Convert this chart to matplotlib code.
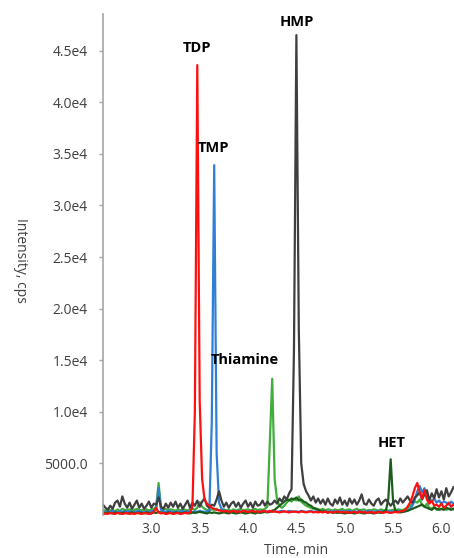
import numpy as np
import matplotlib
matplotlib.use("Agg")
import matplotlib.pyplot as plt

# Chromatogram sampling (minutes)
scan_start = 2.500
scan_step = 0.025
n_scans = 146

# Intensity traces (cps), one value per scan
hmp = [1000, 700, 500, 900, 600, 1200, 1400, 800, 1800, 1100,
       700, 1200, 600, 1000, 1400, 700, 1100, 600, 900, 1300,
       700, 1100, 1000, 1700, 800, 600, 1100, 700, 1200, 800,
       1300, 700, 1100, 600, 1000, 1400, 700, 1200, 900, 1400,
       800, 1300, 1600, 900, 700, 1000, 900, 1500, 2300, 1400,
       800, 1200, 700, 1100, 1300, 800, 1200, 700, 1100, 1400,
       800, 1200, 700, 1300, 900, 1000, 1400, 900, 1300, 1000,
       1100, 1400, 1100, 1600, 1300, 1800, 1500, 2100, 2500, 16000,
       46500, 18000, 5000, 3000, 2300, 1900, 1400, 1800, 1200, 1600,
       1100, 1500, 1000, 1600, 1100, 900, 1500, 1100, 1700, 1000,
       1400, 900, 1600, 1100, 1500, 1000, 1400, 2000, 1100, 1000,
       1500, 1100, 900, 1400, 1600, 1000, 1300, 1500, 1200, 900,
       1200, 1400, 1100, 1600, 1200, 1500, 1800, 1400, 1200, 1700,
       1900, 2200, 1500, 2000, 2400, 1400, 2100, 1600, 2500, 1700,
       2300, 1500, 2600, 1800, 2200, 2700]

tdp = [100, 150, 100, 200, 150, 100, 200, 150, 100, 150,
       200, 100, 150, 100, 200, 150, 100, 200, 150, 100,
       150, 300, 700, 250, 150, 200, 100, 150, 200, 100,
       150, 200, 100, 150, 200, 150, 250, 800, 10000, 43600,
       11000, 3500, 1500, 1100, 900, 700, 600, 500, 450, 400,
       350, 400, 300, 350, 400, 300, 350, 300, 400, 350,
       300, 350, 400, 300, 350, 300, 400, 350, 300, 400,
       300, 350, 300, 250, 300, 350, 300, 250, 300, 350,
       300, 250, 350, 300, 250, 300, 350, 250, 300, 250,
       300, 250, 350, 200, 300, 250, 300, 350, 250, 300,
       250, 300, 200, 250, 300, 200, 350, 250, 300, 200,
       250, 300, 200, 250, 300, 250, 200, 300, 250, 200,
       250, 300, 250, 350, 400, 500, 800, 1200, 1800, 2600,
       3100, 2200, 1600, 2400, 1500, 1100, 1400, 900, 1000, 800,
       1100, 700, 900, 1200, 800, 1000]

tmp = [300, 250, 350, 300, 400, 300, 250, 350, 300, 400,
       300, 350, 250, 300, 400, 350, 300, 250, 350, 300,
       350, 400, 600, 2600, 500, 350, 300, 400, 350, 300,
       250, 350, 300, 400, 300, 350, 300, 250, 350, 300,
       400, 350, 300, 350, 400, 9000, 33900, 6000, 1200, 600,
       450, 400, 350, 300, 350, 300, 400, 350, 300, 350,
       300, 350, 400, 300, 350, 300, 350, 400, 300, 350,
       400, 350, 300, 350, 400, 350, 300, 400, 350, 300,
       350, 300, 400, 350, 300, 350, 400, 300, 350, 300,
       350, 400, 300, 350, 300, 400, 350, 300, 350, 400,
       300, 350, 400, 300, 350, 300, 400, 350, 300, 350,
       400, 300, 350, 300, 400, 350, 300, 350, 400, 300,
       350, 300, 400, 350, 300, 400, 450, 600, 900, 1500,
       2300, 2800, 2200, 2600, 1800, 1500, 1300, 1600, 1200, 1400,
       1100, 1300, 1200, 1000, 1300, 1100]

thiamine = [500, 400, 600, 450, 500, 350, 550, 400, 600, 500,
            450, 550, 400, 500, 600, 450, 500, 400, 550, 450,
            500, 600, 800, 3100, 700, 500, 600, 450, 550, 500,
            400, 550, 450, 600, 500, 450, 550, 600, 500, 700,
            1250, 800, 600, 500, 450, 550, 500, 600, 450, 500,
            550, 450, 500, 400, 550, 450, 500, 600, 450, 500,
            550, 450, 500, 600, 450, 550, 500, 600, 800, 7000,
            13200, 3500, 1500, 900, 700, 900, 1200, 1500, 1300, 1600,
            1400, 1800, 1300, 1100, 900, 800, 700, 600, 650, 550,
            500, 600, 450, 550, 500, 400, 550, 450, 500, 600,
            450, 500, 550, 400, 500, 600, 450, 500, 550, 400,
            500, 450, 550, 500, 400, 550, 450, 500, 400, 450,
            500, 450, 550, 500, 450, 600, 700, 900, 1100, 1300,
            1200, 1500, 1000, 800, 1100, 700, 600, 800, 500, 650,
            550, 700, 500, 600, 650, 550]

het = [200, 150, 250, 200, 150, 250, 200, 150, 200, 250,
       150, 200, 250, 150, 200, 250, 200, 150, 250, 200,
       150, 250, 200, 300, 250, 200, 150, 250, 200, 150,
       250, 200, 150, 200, 250, 200, 150, 250, 200, 250,
       300, 250, 200, 150, 250, 200, 250, 200, 150, 200,
       250, 200, 150, 250, 200, 150, 200, 250, 200, 150,
       200, 250, 200, 150, 250, 200, 250, 300, 250, 300,
       400, 500, 700, 900, 1100, 1300, 1500, 1400, 1600, 1500,
       1700, 1400, 1500, 1300, 1200, 1000, 900, 700, 600, 500,
       400, 350, 300, 250, 300, 200, 250, 200, 250, 200,
       150, 200, 250, 200, 150, 200, 250, 200, 150, 200,
       250, 200, 150, 200, 250, 200, 300, 400, 1500, 5400,
       1300, 400, 300, 250, 300, 350, 400, 500, 600, 700,
       800, 900, 1000, 800, 700, 600, 500, 700, 600, 500,
       600, 500, 700, 600, 500, 600]

peak_names = ["TDP", "TMP", "HMP", "Thiamine", "HET"]
label_x = [3.47, 3.64, 4.50, 3.97, 5.48]
label_y = [45250, 35560, 47770, 15020, 6980]

y_ticks = [5000, 10000, 15000, 20000, 25000, 30000, 35000, 40000, 45000]
y_tick_labels = ["5000.0", "1.0e4", "1.5e4", "2.0e4", "2.5e4", "3.0e4", "3.5e4", "4.0e4", "4.5e4"]
x_ticks = [3.0, 3.5, 4.0, 4.5, 5.0, 5.5, 6.0]
x_tick_labels = ["3.0", "3.5", "4.0", "4.5", "5.0", "5.5", "6.0"]

time = scan_start + scan_step * np.arange(n_scans)

plt.rcParams['font.family'] = ['Open Sans', 'DejaVu Sans']
fig = plt.figure(figsize=(4.54, 5.58), dpi=100)
ax = fig.add_axes([103/454, 1 - 515/558, 1 - 103/454, (515 - 14)/558])

lw = 1.6
ax.plot(time, thiamine, color="#3fae3a", lw=lw)
ax.plot(time, tmp, color="#2f7fd6", lw=lw)
ax.plot(time, het, color="#1d5c1d", lw=lw)
ax.plot(time, hmp, color="#3f3f3f", lw=lw)
ax.plot(time, tdp, color="#ff1010", lw=lw)

for name, xx, yy in zip(peak_names, label_x, label_y):
    ax.text(xx, yy, name, ha="center", va="center", fontsize=10.5,
            fontweight="bold", color="black")

ax.set_xlim(2.5, 6.13)
ax.set_ylim(0, 48550)
ax.set_yticks(y_ticks)
ax.set_yticklabels(y_tick_labels)
ax.set_xticks(x_ticks)
ax.set_xticklabels(x_tick_labels)

for s in ["top", "right", "bottom"]:
    ax.spines[s].set_visible(False)
ax.spines["left"].set_color("#a6a6a6")
ax.spines["left"].set_linewidth(1.2)
ax.tick_params(axis="y", length=3, width=1, color="#a6a6a6", pad=8,
               labelsize=10, labelcolor="#404040")
ax.tick_params(axis="x", length=0, pad=5, labelsize=10, labelcolor="#404040")

fig.text(20/454, 1 - 260/558, "Intensity, cps", rotation=270, ha="center",
         va="center", fontsize=10, color="#404040")
fig.text(296/454, 1 - 550/558, "Time, min", ha="center", va="center",
         fontsize=10, color="#404040")

fig.savefig("out.png", dpi=100)
